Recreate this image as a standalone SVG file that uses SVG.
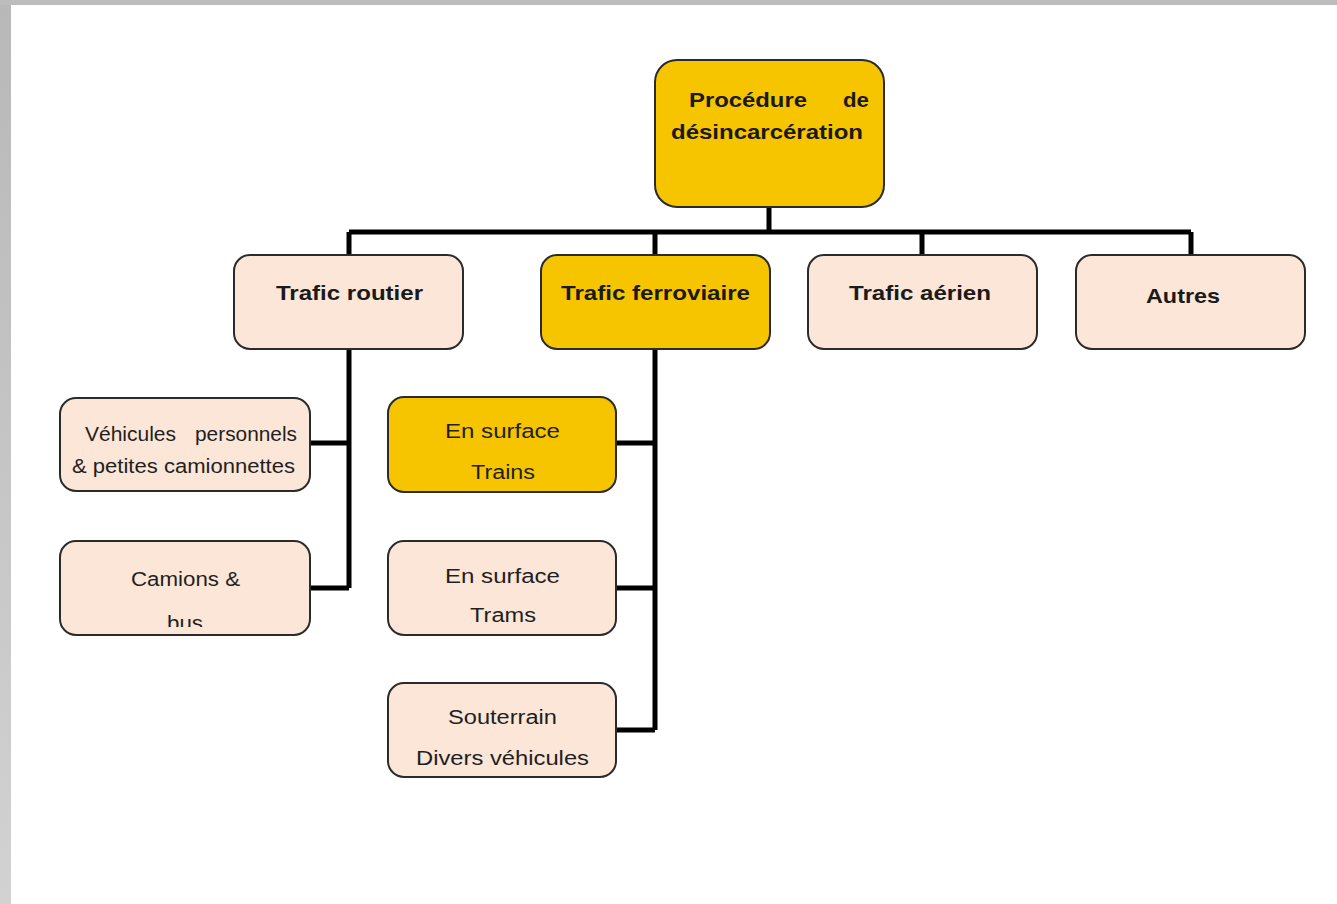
<svg xmlns="http://www.w3.org/2000/svg" width="1337" height="904" viewBox="0 0 1337 904">
<defs>
<style>
.box{stroke:#2b2b2b;stroke-width:2}
.y{fill:#f6c500}
.p{fill:#fbe6d8}
.b{font-family:"Liberation Sans",Arial,sans-serif;font-weight:bold;font-size:21px;fill:#1a1a1a}
.r{font-family:"Liberation Sans",Arial,sans-serif;font-size:20px;fill:#1f1f1f}
.c{fill:none;stroke:#000;stroke-width:5}
</style>
<linearGradient id="lg" x1="0" y1="0" x2="0" y2="1">
<stop offset="0" stop-color="#b8b8b8"/><stop offset="1" stop-color="#d2d2d2"/>
</linearGradient>
<clipPath id="busclip"><rect x="60" y="541" width="250" height="86"/></clipPath>
</defs>
<rect x="0" y="0" width="1337" height="904" fill="#fff"/>
<rect x="0" y="0" width="11" height="904" fill="url(#lg)"/>
<rect x="0" y="0" width="1337" height="5" fill="#bdbdbd"/>

<g id="connectors">
<path class="c" d="M769 207V232M349 232H1191M349 232V255M655 232V255M922 232V255M1191 232V255"/>
<path class="c" d="M349 349V588M310 443H349M310 588H349"/>
<path class="c" d="M655 349V730M616 443H655M616 588H655M616 730H655"/>
</g>

<g id="root">
<rect class="box y" x="655" y="60" width="229" height="147" rx="22"/>
<text class="b" x="689" y="107" textLength="118" lengthAdjust="spacingAndGlyphs">Procédure</text>
<text class="b" x="843" y="107" textLength="26" lengthAdjust="spacingAndGlyphs">de</text>
<text class="b" x="671" y="139" textLength="192" lengthAdjust="spacingAndGlyphs">désincarcération</text>
</g>

<g id="routier">
<rect class="box p" x="234" y="255" width="229" height="94" rx="16"/>
<text class="b" x="276" y="300" textLength="147" lengthAdjust="spacingAndGlyphs">Trafic routier</text>
</g>
<g id="ferroviaire">
<rect class="box y" x="541" y="255" width="229" height="94" rx="16"/>
<text class="b" x="561" y="300" textLength="189" lengthAdjust="spacingAndGlyphs">Trafic ferroviaire</text>
</g>
<g id="aerien">
<rect class="box p" x="808" y="255" width="229" height="94" rx="16"/>
<text class="b" x="849" y="300" textLength="142" lengthAdjust="spacingAndGlyphs">Trafic aérien</text>
</g>
<g id="autres">
<rect class="box p" x="1076" y="255" width="229" height="94" rx="16"/>
<text class="b" x="1146" y="303" textLength="74" lengthAdjust="spacingAndGlyphs">Autres</text>
</g>

<g id="vehicules">
<rect class="box p" x="60" y="398" width="250" height="93" rx="16"/>
<text class="r" x="85" y="441" font-size="18" textLength="91" lengthAdjust="spacingAndGlyphs">Véhicules</text>
<text class="r" x="195" y="441" font-size="18" textLength="102" lengthAdjust="spacingAndGlyphs">personnels</text>
<text class="r" x="72" y="473" font-size="19" textLength="223" lengthAdjust="spacingAndGlyphs">&amp; petites camionnettes</text>
</g>
<g id="camions">
<rect class="box p" x="60" y="541" width="250" height="94" rx="16"/>
<text class="r" x="131" y="586" textLength="109" lengthAdjust="spacingAndGlyphs">Camions &amp;</text>
<text class="r" x="167" y="630" clip-path="url(#busclip)" textLength="36" lengthAdjust="spacingAndGlyphs">bus</text>
</g>

<g id="trains">
<rect class="box y" x="388" y="397" width="228" height="95" rx="16"/>
<text class="r" x="445" y="438" textLength="115" lengthAdjust="spacingAndGlyphs">En surface</text>
<text class="r" x="471" y="479" textLength="64" lengthAdjust="spacingAndGlyphs">Trains</text>
</g>
<g id="trams">
<rect class="box p" x="388" y="541" width="228" height="94" rx="16"/>
<text class="r" x="445" y="583" textLength="115" lengthAdjust="spacingAndGlyphs">En surface</text>
<text class="r" x="470" y="622" textLength="66" lengthAdjust="spacingAndGlyphs">Trams</text>
</g>
<g id="souterrain">
<rect class="box p" x="388" y="683" width="228" height="94" rx="16"/>
<text class="r" x="448" y="724" textLength="109" lengthAdjust="spacingAndGlyphs">Souterrain</text>
<text class="r" x="416" y="765" textLength="173" lengthAdjust="spacingAndGlyphs">Divers véhicules</text>
</g>
</svg>
